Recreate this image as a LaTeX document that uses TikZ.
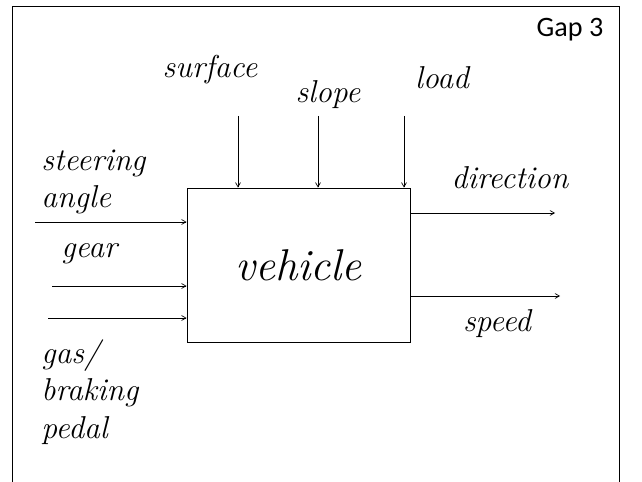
\documentclass[tikz,border=0pt]{standalone}
\usepackage{fontspec}
\newfontfamily\gapfont{Carlito}
\usepackage{tikz}
\usetikzlibrary{arrows}

\begin{document}
\begin{tikzpicture}
		[x=0.03cm,y=-0.03cm,every node/.style={inner sep=1pt},
		edge/.style={->,> = angle 60,semithick},
		lbl/.style={font=\fontsize{27}{32}\selectfont\itshape,align=left},
		sysbox/.style={draw,thick,minimum width=6.69cm,minimum height=4.62cm,font=\fontsize{38}{40}\selectfont\itshape}]
		\useasboundingbox (0,0) rectangle (642,482);
		\draw (12,482) -- (12,6) -- (619,6) -- (619,482);
		\node[font=\gapfont\fontsize{24}{26}\selectfont] (gap) at (570,30) {Gap 3};
		
		\node[sysbox] (veh) at (298.5,265) {vehicle};
		
		% top inputs
		\node[lbl] (surf) at (210,70) {surface};
		\node[lbl] (slope) at (328,95) {slope};
		\node[lbl] (load) at (442,78) {load};
		\coordinate (t1) at (238,116);
		\coordinate (t2) at (318,116);
		\coordinate (t3) at (404,116);
		
		% left inputs
		\node[lbl,anchor=west] (steer) at (40,182) {steering\\angle};
		\node[lbl,anchor=west] (gear) at (60,254) {gear};
		\node[lbl,anchor=west] (gas) at (40,392) {gas/\\braking\\pedal};
		\coordinate (l1) at (35,222);
		\coordinate (l2) at (52,286);
		\coordinate (l3) at (48,318);
		
		% right outputs
		\node[lbl] (dir) at (510,178) {direction};
		\node[lbl] (speed) at (497,324) {speed};
		\coordinate (r1) at (555,213);
		\coordinate (r2) at (560,296);
		
		\foreach \from in {t1,t2,t3}
		\draw[edge] (\from) -- (veh.north -| \from);
		\foreach \from in {l1,l2,l3}
		\draw[edge] (\from) -- (veh.west |- \from);
		\foreach \to in {r1,r2}
		\draw[edge] (veh.east |- \to) -- (\to);
		\end{tikzpicture}
\end{document}
